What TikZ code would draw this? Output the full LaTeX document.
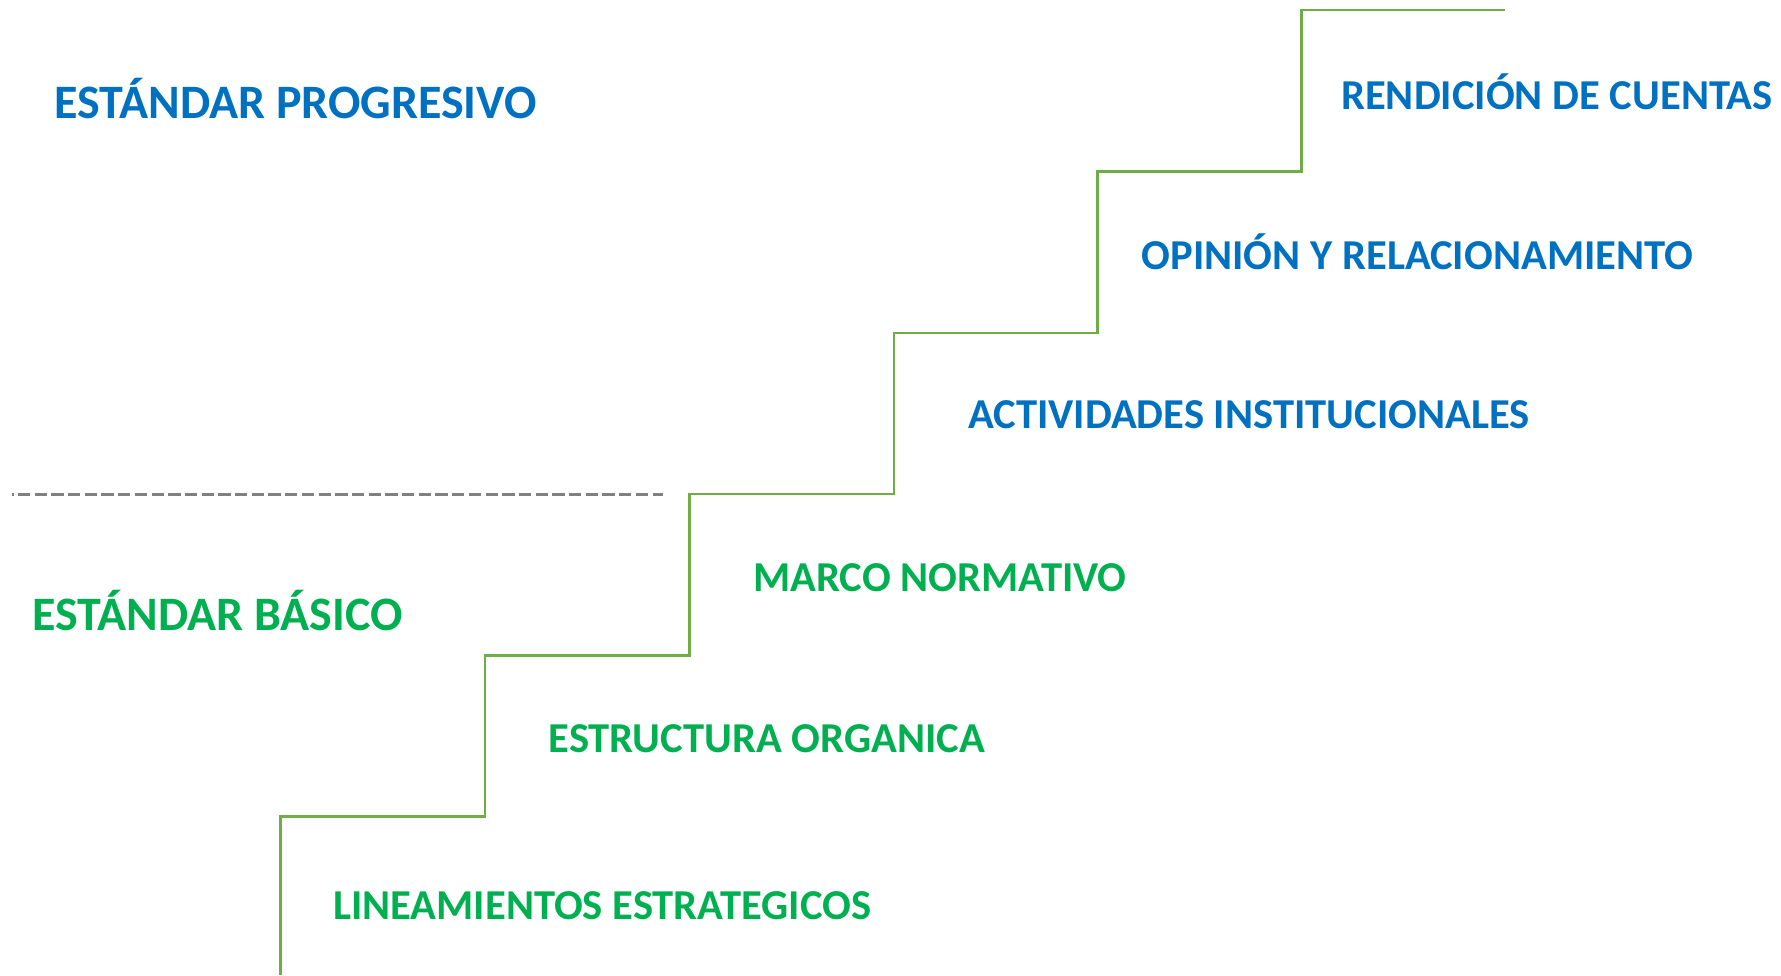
\documentclass[tikz,border=0pt]{standalone}
\usepackage{fontspec}
\setmainfont{Carlito}
\definecolor{tblue}{HTML}{0070C0}
\definecolor{tgreen}{HTML}{00B050}
\definecolor{stair}{HTML}{70AD47}
\definecolor{dashgrey}{HTML}{808080}
\begin{document}
\begin{tikzpicture}[x=1pt,y=-1pt,
  heading/.style={anchor=west,inner sep=0pt,font=\fontsize{48}{50}\selectfont\bfseries},
  steplabel/.style={anchor=west,inner sep=0pt,font=\fontsize{42.6}{44}\selectfont\bfseries},
  stairline/.style={draw=stair,line width=2.5pt,line join=miter},
  divider/.style={draw=dashgrey,line width=3.8pt,dash pattern=on 12.3pt off 4.4pt,dash phase=10.8pt}]
\useasboundingbox (0,0) rectangle (1781,975);
% staircase corner coordinates
\coordinate (s0) at (280.5,975);
\coordinate (s1) at (280.5,816.6);
\coordinate (s2) at (485,816.6);
\coordinate (s3) at (485,655.4);
\coordinate (s4) at (689.5,655.4);
\coordinate (s5) at (689.5,494);
\coordinate (s6) at (894,494);
\coordinate (s7) at (894,332.8);
\coordinate (s8) at (1097.5,332.8);
\coordinate (s9) at (1097.5,171.5);
\coordinate (s10) at (1301.6,171.5);
\coordinate (s11) at (1301.6,10.2);
\coordinate (s12) at (1505,10.2);
\draw[stairline] (s0) -- (s1) -- (s2) -- (s3) -- (s4) -- (s5) -- (s6) -- (s7) -- (s8) -- (s9) -- (s10) -- (s11) -- (s12);
% divider
\coordinate (d0) at (12,494.5);
\coordinate (d1) at (663,494.5);
\draw[divider] (d0) -- (d1);
% headings
\node[heading,text=tblue] (prog) at (54,98.5) {ESTÁNDAR PROGRESIVO};
\node[heading,text=tgreen] (basic) at (32,610) {ESTÁNDAR BÁSICO};
% step labels
\node[steplabel,text=tblue] (rend) at (1341,92) {RENDICIÓN DE CUENTAS};
\node[steplabel,text=tblue] (opin) at (1141.5,252) {OPINIÓN Y RELACIONAMIENTO};
\node[steplabel,text=tblue] (acti) at (968,415) {ACTIVIDADES INSTITUCIONALES};
\node[steplabel,text=tgreen] (marc) at (753,577.5) {MARCO NORMATIVO};
\node[steplabel,text=tgreen] (estr) at (548.5,739) {ESTRUCTURA ORGANICA};
\node[steplabel,text=tgreen] (line) at (333,906) {LINEAMIENTOS ESTRATEGICOS};
\end{tikzpicture}
\end{document}
